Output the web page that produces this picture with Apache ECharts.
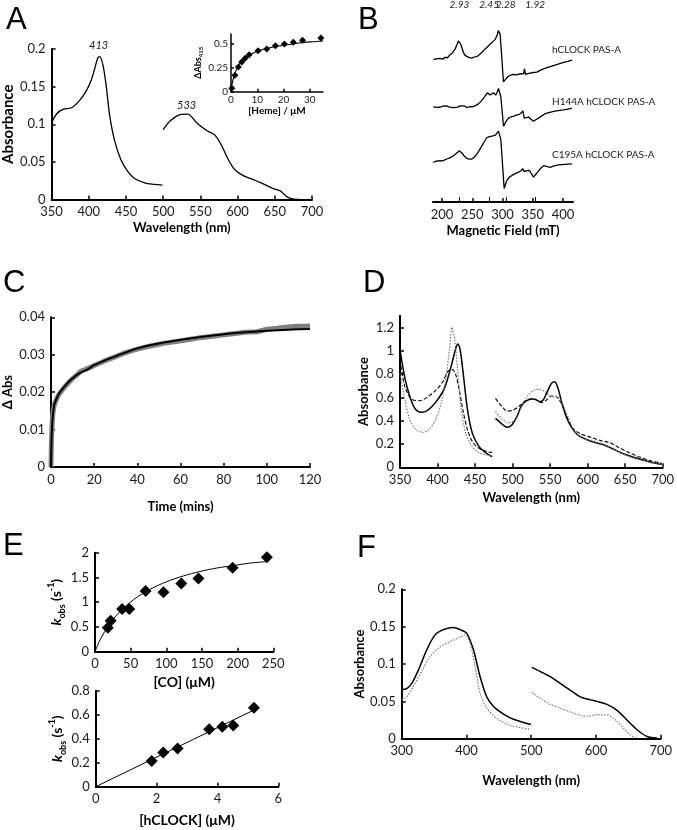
<!DOCTYPE html>
<html><head><meta charset="utf-8">
<script src="https://cdn.jsdelivr.net/npm/echarts@6/dist/echarts.min.js"></script>
<style>html,body{margin:0;padding:0;background:#fff}#c{width:677px;height:830px}</style>
</head><body><div id="c"></div>
<script>
// ---------- Panel A ----------
const aSoret = [[350,0.102],[357,0.114],[366,0.12],[377,0.122],[388,0.132],[397,0.145],[403.5,0.159],[408,0.174],[412,0.188],[414.5,0.19],[419,0.179],[423.5,0.15],[428,0.112],[434.5,0.079],[443.5,0.052],[452.5,0.037],[461.5,0.028],[475,0.022],[488,0.02],[499,0.019]];
const aVisible = [[500,0.093],[510,0.105],[524,0.113],[533,0.1135],[546,0.101],[559.5,0.091],[568.5,0.0865],[577.5,0.0736],[586,0.056],[595,0.041],[604,0.0337],[613,0.0293],[622,0.0262],[635,0.0204],[649,0.0142],[657.5,0.0115],[666.5,0.0035],[675.5,0.0005],[683,0]];
const aPeakLabels = ['413','533'];
// inset
const insetHeme = [0.3,1.5,2.8,4.1,5.4,6.9,10.3,13.6,16.9,20.3,23.7,27.2,34.2];
const insetDAbs = [0.035,0.171,0.257,0.308,0.349,0.384,0.425,0.445,0.479,0.497,0.514,0.534,0.558];
const insetFit = [[0.1,0.04],[0.9,0.137],[2.2,0.24],[4.1,0.318],[6.7,0.377],[10.5,0.425],[15.6,0.462],[20.8,0.486],[25.9,0.507],[31,0.52],[35,0.528]];
// ---------- Panel B (EPR, arbitrary intensity) ----------
const bWild = [[185.6,144.7],[190,145.5],[193,144.2],[196.7,146],[201,145.2],[205,147],[209,146.6],[213.3,149.7],[217,151.5],[221.5,155.3],[225,160.5],[227,163.7],[229,162.8],[231,160.3],[235.3,152],[238,149],[240.9,147],[245,146.8],[249.2,146.3],[253,147.4],[257.5,147.7],[261,149.5],[265.8,152],[270,154.8],[274,157],[278,159.5],[282.4,162],[285,163.2],[287.8,165.3],[290.5,168.5],[293.3,174.3],[296.1,170.3],[301.6,122],[304,124],[306,125.3],[309,127.5],[312.7,128.7],[318,129.6],[323.8,129.3],[329,130.5],[334.7,130.3],[336.4,135.3],[338,129.7],[342,130.4],[345.8,131],[351,131.6],[356.9,132],[362,133.8],[367.9,135.3],[375,136.8],[384.4,138.7],[392,140.2],[401,142],[408,143],[414.9,144.3]];
const bH144A = [[185.6,97],[190,96.2],[193,97.8],[196.7,96.3],[201,97.4],[204,96.4],[207.7,97.7],[212,96.5],[215,98],[218.8,96],[222,97.2],[226,96.4],[229.8,97.7],[233,96.8],[237,97.6],[240.9,96],[245,96.8],[248,97.8],[251.9,97],[256,98.2],[260.2,99.7],[264,102],[268.5,105.3],[272,108.5],[275.1,111],[279.5,108.7],[282,110],[285,111],[289,108.7],[291,111.5],[293.3,115.3],[297.2,107],[301.6,77],[304.4,80.3],[307,83],[309.9,85.3],[314,86.4],[318.1,87],[322,88.2],[326.4,88.7],[330,90],[332,91],[333.7,92.5],[335.9,85.3],[339,86.2],[343,86.3],[347,84],[351.3,82],[355,83.6],[359.6,85.3],[365,87.5],[370.7,89.7],[377,90.8],[384.5,92],[392,92.8],[401,93.7],[408,94.5],[414.9,95.3]];
const bC195A = [[185.6,40.3],[190,41.4],[193,40.6],[196.7,42],[201,41.8],[204,43],[207.8,43.7],[212,44.6],[215,45.4],[218.8,47],[223,49],[226,50.8],[228.7,52],[231,50.6],[234.3,48.7],[237,46.5],[240.9,44.3],[245,43.6],[249.2,43.7],[253,45.5],[257.5,48.7],[261,52],[265.8,57],[270,61.5],[274,65.3],[278,66.5],[282.4,67],[285,66.5],[287.8,67.7],[290.5,69],[293.3,72],[297.2,63.7],[302.7,13.7],[305,18],[307.2,22],[311,25],[315.5,27],[320,28.6],[326.4,30.3],[330,31.5],[333.7,33.7],[335.5,31],[337.5,30.3],[341,31.8],[344.7,32],[348,28.5],[351.3,25.3],[354,26.8],[357.9,30.3],[362,33.5],[367.9,37],[373,36.2],[379,35.3],[385,36.6],[392.7,37.7],[403,38.2],[414.9,38.7]];
const bTraceNames = ['hCLOCK PAS-A','H144A hCLOCK PAS-A','C195A hCLOCK PAS-A'];
const bGFields = [228.6,277.8,305.4,354];
const bGLabels = ['2.93','2.45','2.28','1.92'];
// ---------- Panel C ----------
const cData = [[0,0],[0.3,0.0085],[0.8,0.0138],[1.5,0.0165],[2.3,0.0178],[3.8,0.0195],[6.2,0.0213],[9.2,0.0232],[12,0.0246],[14,0.0256],[17,0.0263],[20,0.0271],[25,0.0284],[30,0.0295],[35,0.0306],[40,0.0315],[50,0.0328],[60,0.0337],[70,0.0346],[80,0.0353],[90,0.036],[95,0.0361],[100,0.0368],[105,0.0371],[110,0.0374],[115,0.0376],[120,0.0377]];
const cFit = [[0,0],[0.3,0.008],[0.8,0.0135],[1.5,0.0166],[2.3,0.0179],[3.8,0.0197],[6.2,0.0215],[9.2,0.0233],[13,0.025],[17,0.0261],[20,0.0272],[25,0.0285],[30,0.0296],[40,0.0317],[50,0.033],[60,0.034],[70,0.0348],[80,0.0355],[90,0.036],[100,0.0364],[110,0.0367],[120,0.0369]];
// ---------- Panel D ----------
const dSolid1 = [[350,1.006],[356.6,0.763],[363.2,0.606],[369.7,0.506],[378.5,0.471],[387.3,0.491],[398.2,0.563],[409.2,0.677],[418,0.863],[423.7,1.006],[426.8,1.057],[429.8,1.02],[434.2,0.806],[440,0.491],[446.5,0.291],[455.3,0.177],[464,0.126],[472.8,0.091]];
const dSolid2 = [[477.2,0.42],[486,0.371],[492.5,0.343],[499,0.363],[505.7,0.434],[512.3,0.534],[518.9,0.571],[524.6,0.586],[529.8,0.583],[536.4,0.563],[540.8,0.577],[545.2,0.634],[551.8,0.72],[556.1,0.734],[560.5,0.677],[565.8,0.549],[571.5,0.434],[578,0.349],[586.8,0.277],[597.8,0.24],[608.8,0.214],[622,0.191],[635,0.154],[648.2,0.114],[665.8,0.077],[683.3,0.046],[698.7,0.026]];
const dDashed1 = [[350,0.92],[356.6,0.69],[365.4,0.585],[376.3,0.571],[387.3,0.606],[398.2,0.663],[407,0.734],[413.6,0.82],[419.3,0.84],[423.7,0.806],[429,0.663],[434.2,0.477],[440,0.32],[446.5,0.22],[455.3,0.163],[466.2,0.134],[472.8,0.126]];
const dDashed2 = [[477.2,0.591],[486,0.52],[492.5,0.483],[499,0.486],[507.9,0.52],[516.7,0.571],[525.4,0.586],[532,0.577],[538.6,0.554],[545.2,0.577],[551.8,0.611],[558.3,0.606],[564.9,0.549],[571.5,0.449],[580.3,0.334],[591.2,0.286],[604.4,0.257],[617.5,0.229],[628.5,0.214],[639.5,0.177],[652.6,0.134],[668,0.091],[683.3,0.057],[698.7,0.034]];
const dDotted1 = [[350,0.806],[356.6,0.577],[363.2,0.406],[372,0.32],[380.7,0.3],[389.5,0.329],[398.2,0.42],[404.8,0.549],[411.4,0.777],[415.8,1.006],[419.3,1.2],[422.4,1.12],[426.8,0.834],[431.1,0.52],[437.7,0.291],[446.5,0.177],[455.3,0.126],[466.2,0.103],[472.8,0.091]];
const dDotted2 = [[477.2,0.477],[486,0.414],[494.7,0.383],[503.5,0.406],[512.3,0.52],[521,0.62],[529.8,0.663],[536.4,0.669],[543,0.649],[551.8,0.606],[558.3,0.606],[564.9,0.563],[573.7,0.434],[582.5,0.306],[593.4,0.249],[606.6,0.229],[619.8,0.2],[633,0.163],[648.2,0.111],[665.8,0.069],[683.3,0.049],[698.7,0.029]];
// ---------- Panel E ----------
const eCO = [18,22,38,48,71,96,121,145,193,241];
const eKobsCO = [0.485,0.626,0.862,0.862,1.226,1.2,1.38,1.48,1.697,1.906];
const eFitCO = [[0,0],[7,0.236],[16.4,0.47],[30.4,0.74],[53.7,1.047],[77.1,1.26],[100.5,1.415],[123.8,1.53],[147.2,1.62],[170.6,1.69],[194,1.74],[217,1.79],[240.7,1.82]];
const eHC = [1.84,2.22,2.69,3.73,4.16,4.52,5.2];
const eKobsHC = [0.214,0.286,0.319,0.478,0.5,0.511,0.658];
const eFitHC = [[0,0],[5.24,0.644]];
// ---------- Panel F ----------
const fSolid1 = [[300,0.066],[307.7,0.067],[315.5,0.074],[325.8,0.092],[338.7,0.119],[351.5,0.139],[364.4,0.146],[379.9,0.149],[390.2,0.146],[400.5,0.141],[410.8,0.119],[421.1,0.083],[431.4,0.056],[441.8,0.043],[457.2,0.033],[472.7,0.026],[499.5,0.019]];
const fSolid2 = [[501,0.0955],[513.9,0.09],[529.4,0.083],[544.8,0.074],[560.3,0.065],[575.8,0.056],[591.2,0.052],[601.5,0.05],[617,0.046],[632.5,0.038],[647.9,0.025],[663.4,0.012],[678.9,0.003],[694.3,0.001]];
const fDotted1 = [[300,0.052],[307.7,0.056],[318,0.07],[330.9,0.09],[343.8,0.11],[359.3,0.123],[374.7,0.13],[390.2,0.136],[397.9,0.139],[405.7,0.128],[413.4,0.096],[421.1,0.061],[431.4,0.041],[446.9,0.027],[467.5,0.018],[499.5,0.0125]];
const fDotted2 = [[501,0.062],[513.9,0.054],[529.4,0.046],[544.8,0.041],[565.5,0.034],[586.1,0.03],[601.5,0.032],[617,0.032],[630,0.025],[642.8,0.014],[653.1,0.005],[663.4,0]];
const panelLetters = ['A','B','C','D','E','F'];

// ---------- build ----------
const FONT = 'Lato';
const TXT = '#1a1a1a';
const grids = [
  {left:50, top:49, width:262, height:150.5},      // 0 A
  {left:231, top:34, width:92, height:57.7},       // 1 inset
  {left:433, top:15, width:140, height:187},       // 2 B
  {left:50, top:317.3, width:260, height:149.7},   // 3 C
  {left:400, top:315.7, width:266, height:151.6},  // 4 D
  {left:95, top:552.7, width:178.3, height:99},    // 5 E1
  {left:95.7, top:690.7, width:182.6, height:96},  // 6 E2
  {left:401.7, top:589.3, width:259, height:149.4} // 7 F
];
function ax(gi, min, max, interval, extra) {
  const small = gi === 1;
  return Object.assign({
    type:'value', gridIndex:gi, min, max, interval,
    splitLine:{show:false},
    axisLine:{show:true, onZero:false, lineStyle:{color:'#000', width:small?1.5:2}},
    axisTick:{show:true, inside:true, length:small?3:4, lineStyle:{color:'#000', width:1.5}},
    axisLabel:{color:TXT, fontFamily:FONT, fontSize:small?10:13, margin:small?3:6, showMaxLabel:false},
    nameLocation:'middle',
    nameTextStyle:{color:'#000', fontFamily:FONT, fontWeight:'bold', fontSize:small?10:13}
  }, extra || {});
}
function maxShow(a){ a.axisLabel.showMaxLabel = true; return a; }
const bigName = {color:'#000', fontFamily:FONT, fontWeight:'bold', fontSize:14};
const xAxes = [
  maxShow(ax(0,350,700,50,{name:'Wavelength (nm)', nameGap:22})),
  ax(1,0,35,10,{name:'[Heme] / μM', nameGap:12}),
  ax(2,185,416.6,null,{name:'Magnetic Field (mT)', nameGap:22,
     axisTick:{show:true, inside:true, length:4, lineStyle:{color:'#000', width:1.5}, customValues:[200,250,300,350,400]},
     axisLabel:{color:TXT, fontFamily:FONT, fontSize:13, margin:6, customValues:[200,250,300,350,400]}}),
  maxShow(ax(3,0,120,20,{name:'Time (mins)', nameGap:33})),
  maxShow(ax(4,350,700,50,{name:'Wavelength (nm)', nameGap:24})),
  maxShow(ax(5,0,250,50,{name:'[CO] (μM)', nameGap:24, nameTextStyle:bigName})),
  maxShow(ax(6,0,6,2,{name:'[hCLOCK] (μM)', nameGap:27, nameTextStyle:bigName})),
  maxShow(ax(7,300,700,100,{name:'Wavelength (nm)', nameGap:36})),
  { type:'value', gridIndex:2, position:'top', offset:2, min:185, max:416.6,
    splitLine:{show:false}, axisLine:{show:false},
    axisTick:{show:true, length:5, lineStyle:{color:'#000', width:1}, customValues:bGFields},
    axisLabel:{customValues:bGFields, margin:6, fontFamily:FONT, fontSize:10, fontStyle:'italic', color:TXT,
      formatter:v => bGLabels[bGFields.indexOf(v)]} }
];
const kobsName = '{k|k}{sub|obs}{n| (s}{sup|-1}{n|)}';
const kobsRich = {k:{fontStyle:'italic', fontWeight:'bold', fontSize:14, fontFamily:FONT, lineHeight:20},
  sub:{fontWeight:'bold', fontSize:9, fontFamily:FONT, verticalAlign:'bottom', lineHeight:20},
  sup:{fontWeight:'bold', fontSize:9, fontFamily:FONT, verticalAlign:'top', lineHeight:20},
  n:{fontWeight:'bold', fontSize:14, fontFamily:FONT, lineHeight:20}};
const yAxes = [
  maxShow(ax(0,0,0.2,0.05,{name:'Absorbance', nameGap:31, nameTextStyle:{color:'#000', fontFamily:FONT, fontWeight:'bold', fontSize:15}})),
  ax(1,0,0.6,0.25,{name:'{n|ΔAbs}{sub|415}', nameGap:24, nameTextStyle:{color:'#000', rich:{
      n:{fontFamily:FONT, fontWeight:'bold', fontSize:9, lineHeight:12},
      sub:{fontFamily:FONT, fontWeight:'bold', fontSize:6, verticalAlign:'bottom', lineHeight:12}}}}),
  {type:'value', gridIndex:2, min:0, max:187, show:false},
  maxShow(ax(3,0,0.04,0.01,{name:'Δ Abs', nameGap:37})),
  ax(4,0,1.3,0.2,{name:'Absorbance', nameGap:30}),
  maxShow(ax(5,0,2,0.5,{name:kobsName, nameGap:28, nameTextStyle:{color:'#000', rich:kobsRich}})),
  maxShow(ax(6,0,0.8,0.2,{name:kobsName, nameGap:28, nameTextStyle:{color:'#000', rich:kobsRich}})),
  maxShow(ax(7,0,0.2,0.05,{name:'Absorbance', nameGap:26}))
];
function ln(xi, yi, data, style, extra) {
  return Object.assign({type:'line', xAxisIndex:xi, yAxisIndex:yi, data, showSymbol:false, symbol:'none',
    smooth:0.3, lineStyle:Object.assign({color:'#000', width:1.3}, style), animation:false, silent:true}, extra||{});
}
function pts(xs, ys){ return xs.map((x,i)=>[x, ys[i]]); }
function sc(xi, data, size){
  return {type:'scatter', xAxisIndex:xi, yAxisIndex:xi, data, symbol:'diamond', symbolSize:size,
    itemStyle:{color:'#000', opacity:1}, animation:false, silent:true};
}
const dotted = {color:'#777', width:1.2, type:[1.5,1.5]};
const dashed = {color:'#000', width:1.1, type:[4,2]};
const series = [
  ln(0,0,aSoret,{width:1.3}),
  ln(0,0,aVisible,{width:1.3}),
  ln(1,1,insetFit,{width:1.1}),
  sc(1, pts(insetHeme, insetDAbs), 7),
  ln(2,2,bWild,{width:1.3},{smooth:false}),
  ln(2,2,bH144A,{width:1.3},{smooth:false}),
  ln(2,2,bC195A,{width:1.3},{smooth:false}),
  ln(3,3,cData,{color:'#7f7f7f', width:5}),
  ln(3,3,cFit,{color:'#000', width:2}),
  ln(4,4,dSolid1,{width:1.5}), ln(4,4,dSolid2,{width:1.5}),
  ln(4,4,dDashed1,dashed), ln(4,4,dDashed2,dashed),
  ln(4,4,dDotted1,dotted), ln(4,4,dDotted2,dotted),
  ln(5,5,eFitCO,{width:1}),
  sc(5, pts(eCO, eKobsCO), 12),
  ln(6,6,eFitHC,{width:1},{smooth:false}),
  sc(6, pts(eHC, eKobsHC), 12),
  ln(7,7,fSolid1,{width:1.5}), ln(7,7,fSolid2,{width:1.5}),
  ln(7,7,fDotted1,dotted), ln(7,7,fDotted2,dotted)
];
const letterPos = [[6,5],[358,5],[3,268],[363,268],[3,531],[357,533]];
const graphic = panelLetters.map((t,i)=>({type:'text', left:letterPos[i][0], top:letterPos[i][1],
  style:{text:t, fontFamily:'Liberation Sans', fontSize:31, fill:'#000'}}));
const bLabelPos = [[552,44.5],[552,96.5],[552,150]];
bTraceNames.forEach((t,i)=>graphic.push({type:'text', left:bLabelPos[i][0], top:bLabelPos[i][1],
  style:{text:t, fontFamily:FONT, fontSize:10, fill:TXT}}));
const peakPos = [[89,40],[177,100]];
aPeakLabels.forEach((t,i)=>graphic.push({type:'text', left:peakPos[i][0], top:peakPos[i][1],
  style:{text:t, fontFamily:FONT, fontSize:11, fontStyle:'italic', fill:TXT}}));

const chart = echarts.init(document.getElementById('c'), null, {renderer:'canvas'});
chart.setOption({backgroundColor:'#fff', animation:false, grid:grids, xAxis:xAxes, yAxis:yAxes, series, graphic});
</script></body></html>
